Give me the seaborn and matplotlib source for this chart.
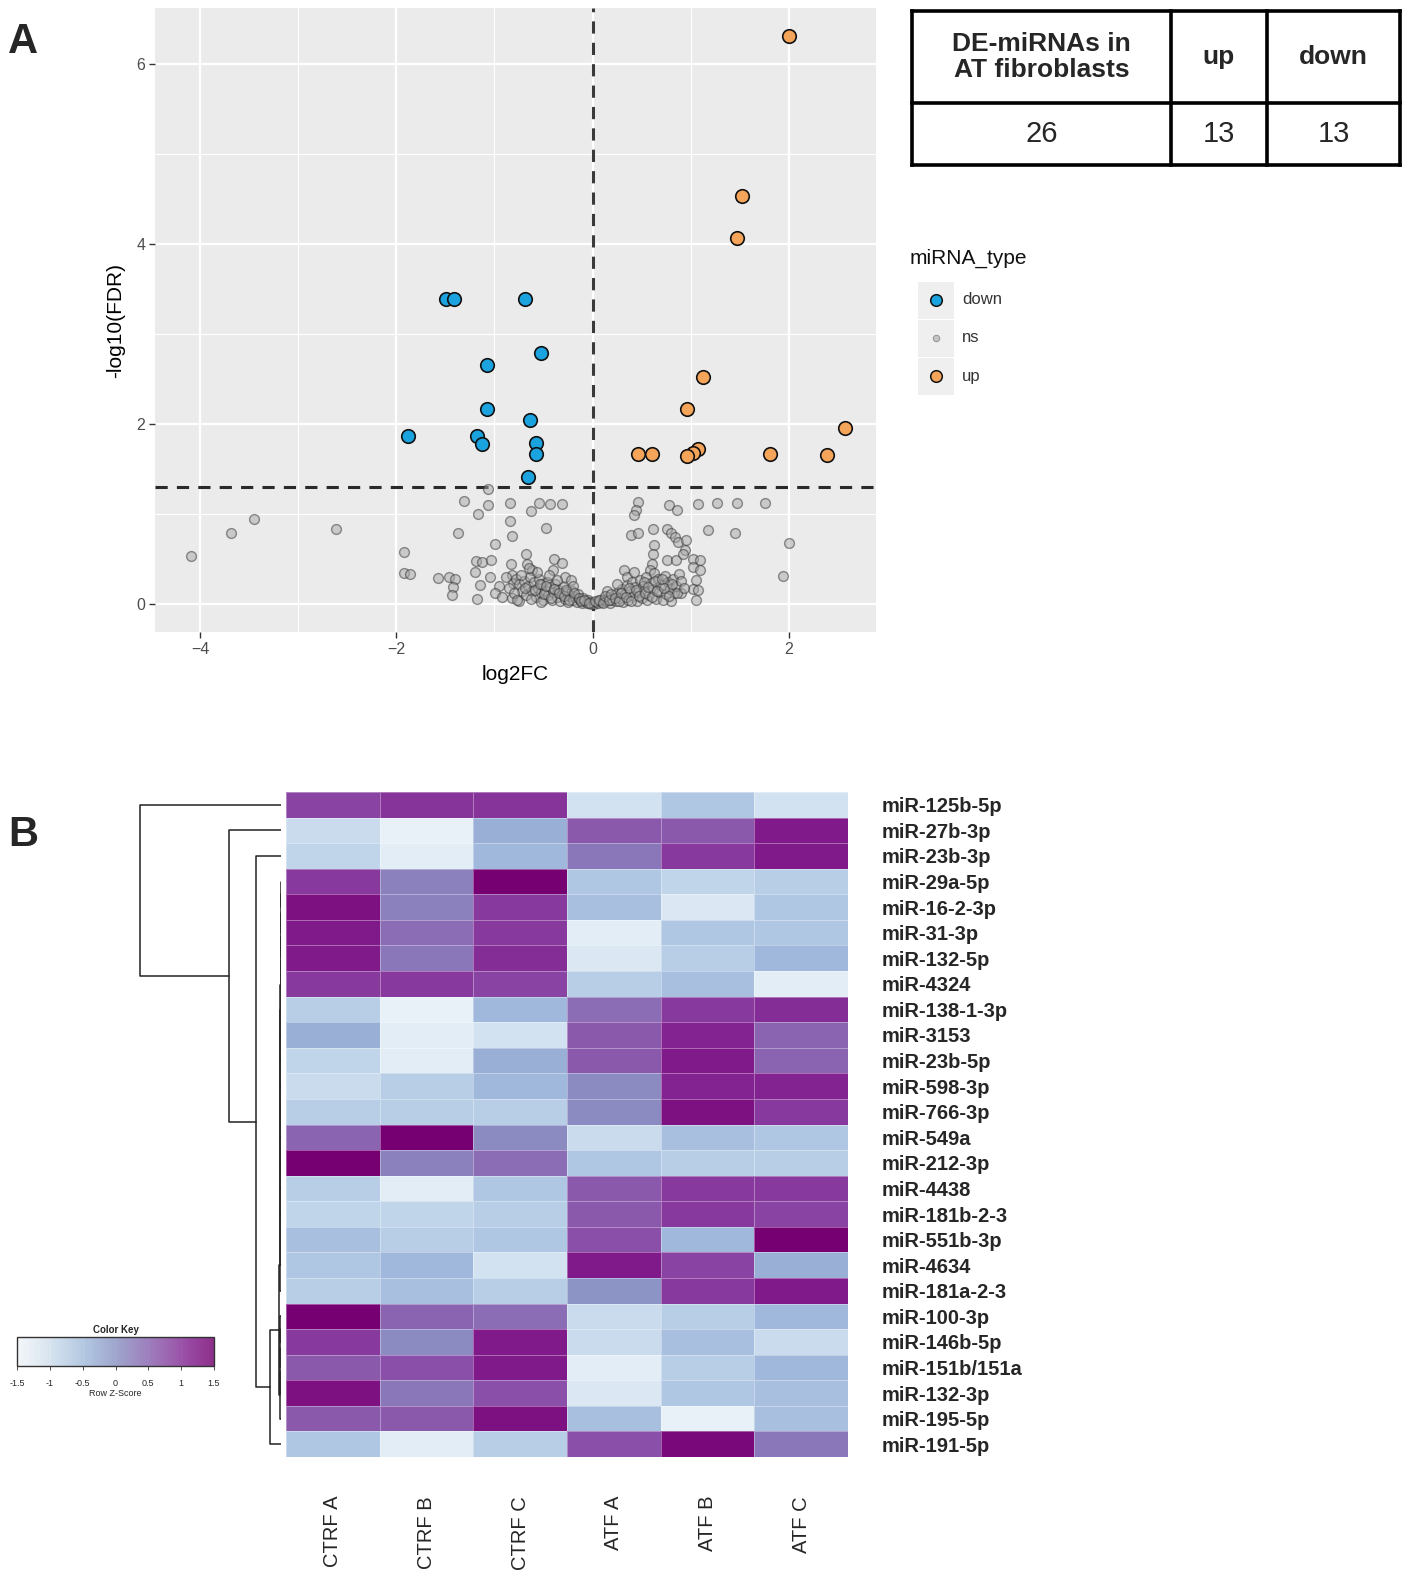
import numpy as np
import pandas as pd
import matplotlib
matplotlib.use("Agg")
import matplotlib.pyplot as plt
import seaborn as sns
from matplotlib.colors import LinearSegmentedColormap, Normalize
from matplotlib.cm import ScalarMappable

# ---------------- Panel A data (volcano) ----------------
up_x = [2.00, 1.52, 1.47, 1.13, 0.96, 2.57, 1.08, 1.02, 0.96, 0.46, 0.61, 1.81, 2.39]
up_y = [6.31, 4.53, 4.07, 2.52, 2.17, 1.96, 1.72, 1.68, 1.64, 1.67, 1.67, 1.67, 1.66]
down_x = [-1.49, -1.41, -0.69, -0.52, -1.08, -1.08, -0.64, -1.88, -1.18, -1.13, -0.58, -0.58, -0.66]
down_y = [3.39, 3.39, 3.39, 2.79, 2.66, 2.17, 2.04, 1.87, 1.87, 1.78, 1.79, 1.67, 1.41]

ns_x = [-4.09, -3.69, -3.45, -2.61, -1.92, -1.92, -1.86, -1.37, -1.31, -1.07, -1.07, -1.17, -0.84,
        -0.63, -0.55, -0.43, -0.31, -0.84, -0.82, -0.47, -0.99, -1.57, -1.46, -1.40, -1.42, -1.43,
        -1.19, -1.13, -1.03, -1.20, -1.15, -1.18, -1.04, -0.95, -0.83, -0.82, -0.81, -0.68, -0.67,
        -0.62, -0.82, -0.75, -0.39, -0.31, -0.40, -0.28, -0.22, -0.99, -0.92,
        0.46, 0.44, 0.42, 0.78, 0.86, 1.08, 1.27, 1.47, 1.76, 1.18, 0.39, 0.46, 0.62, 0.76, 0.80,
        0.84, 0.87, 0.95, 0.94, 0.63, 0.62, 0.61, 0.59, 0.76, 0.85, 0.92, 1.02, 1.10, 1.02, 1.10,
        1.06, 1.02, 1.08, 1.05, 0.90, 0.83, 0.80, 0.32, 0.35, 1.45, 2.00, 1.94,
        -0.78, -0.75, -0.72, -0.70, -0.68, -0.66, -0.64, -0.62, -0.60, -0.58, -0.56, -0.55, -0.53,
        -0.51, -0.50, -0.48, -0.46, -0.45, -0.43, -0.41, -0.40, -0.38, -0.36, -0.35, -0.33, -0.31,
        -0.30, -0.28, -0.26, -0.25, -0.23, -0.21, -0.20, -0.18, -0.16, -0.15, -0.13, -0.11, -0.10,
        -0.08, -0.06, -0.05, -0.03, -0.02, -0.44, -0.36, -0.57, -0.65, -0.20, -0.52,
        0.02, 0.04, 0.06, 0.08, 0.10, 0.12, 0.14, 0.16, 0.18, 0.20, 0.22, 0.24, 0.26, 0.28, 0.30,
        0.31, 0.33, 0.35, 0.36, 0.38, 0.40, 0.41, 0.43, 0.45, 0.46, 0.48, 0.50, 0.51, 0.53, 0.55,
        0.56, 0.58, 0.60, 0.62, 0.63, 0.65, 0.67, 0.68, 0.70, 0.72, 0.74, 0.75, 0.77, 0.79, 0.82,
        0.85, 0.88, 0.25, 0.15, 0.42,
        -0.88, -0.85, -0.80, -0.77, -0.73, -0.69, -0.63, -0.59, -0.54, -0.49, -0.47, -0.42, -0.39,
        -0.34, -0.29, -0.27, -0.24, -0.19, -0.14, -0.12, -0.09, -0.04,
        0.03, 0.07, 0.11, 0.13, 0.17, 0.19, 0.23, 0.27, 0.29, 0.34, 0.37, 0.39, 0.44, 0.47, 0.52,
        0.54, 0.57, 0.61, 0.64, 0.66, 0.71, 0.73, 0.78, 0.81, 0.86, 0.90, 0.93]
ns_y = [0.53, 0.79, 0.95, 0.83, 0.58, 0.35, 0.33, 0.79, 1.15, 1.28, 1.10, 1.00, 1.12,
        1.03, 1.12, 1.11, 1.11, 0.92, 0.76, 0.85, 0.67, 0.29, 0.30, 0.28, 0.19, 0.10,
        0.48, 0.47, 0.49, 0.36, 0.21, 0.06, 0.30, 0.20, 0.45, 0.32, 0.23, 0.56, 0.45,
        0.38, 0.07, 0.03, 0.50, 0.46, 0.38, 0.30, 0.27, 0.12, 0.08,
        1.13, 1.05, 0.99, 1.10, 1.05, 1.11, 1.12, 1.12, 1.12, 0.82, 0.77, 0.79, 0.83, 0.83, 0.79,
        0.75, 0.69, 0.71, 0.60, 0.66, 0.56, 0.45, 0.38, 0.49, 0.49, 0.56, 0.50, 0.49, 0.41, 0.38,
        0.27, 0.17, 0.16, 0.04, 0.12, 0.12, 0.03, 0.38, 0.30, 0.79, 0.68, 0.31,
        0.28, 0.22, 0.15, 0.26, 0.10, 0.20, 0.30, 0.14, 0.24, 0.08, 0.18, 0.28, 0.12,
        0.22, 0.05, 0.16, 0.25, 0.10, 0.19, 0.04, 0.13, 0.22, 0.08, 0.16, 0.03, 0.11,
        0.19, 0.06, 0.13, 0.02, 0.09, 0.15, 0.04, 0.08, 0.02, 0.11, 0.05, 0.01, 0.07,
        0.03, 0.01, 0.05, 0.02, 0.00, 0.32, 0.27, 0.36, 0.40, 0.20, 0.02,
        0.00, 0.02, 0.01, 0.04, 0.02, 0.06, 0.03, 0.08, 0.01, 0.05, 0.10, 0.03, 0.13, 0.07, 0.17,
        0.02, 0.11, 0.21, 0.05, 0.15, 0.24, 0.09, 0.19, 0.03, 0.13, 0.27, 0.07, 0.20, 0.15, 0.30,
        0.04, 0.10, 0.23, 0.17, 0.34, 0.06, 0.28, 0.13, 0.21, 0.04, 0.31, 0.11, 0.24, 0.17, 0.28,
        0.20, 0.33, 0.22, 0.14, 0.36,
        0.30, 0.18, 0.12, 0.05, 0.32, 0.18, 0.06, 0.16, 0.22, 0.11, 0.20, 0.07, 0.17,
        0.12, 0.09, 0.16, 0.05, 0.12, 0.07, 0.03, 0.05, 0.01,
        0.03, 0.05, 0.01, 0.09, 0.04, 0.11, 0.07, 0.03, 0.12, 0.08, 0.18, 0.03, 0.16, 0.09, 0.24,
        0.12, 0.19, 0.08, 0.26, 0.15, 0.28, 0.18, 0.09, 0.22, 0.12, 0.26, 0.18]

fdr_cut = 1.3
table_header = ["DE-miRNAs in\nAT fibroblasts", "up", "down"]
table_values = ["26", "13", "13"]
legend_levels = ["down", "ns", "up"]

# ---------------- Panel B data (heatmap) ----------------
mirnas = ["miR-125b-5p", "miR-27b-3p", "miR-23b-3p", "miR-29a-5p", "miR-16-2-3p", "miR-31-3p",
          "miR-132-5p", "miR-4324", "miR-138-1-3p", "miR-3153", "miR-23b-5p", "miR-598-3p",
          "miR-766-3p", "miR-549a", "miR-212-3p", "miR-4438", "miR-181b-2-3", "miR-551b-3p",
          "miR-4634", "miR-181a-2-3", "miR-100-3p", "miR-146b-5p", "miR-151b/151a", "miR-132-3p",
          "miR-195-5p", "miR-191-5p"]
samples = ["CTRF A", "CTRF B", "CTRF C", "ATF A", "ATF B", "ATF C"]
z_ctrf_a = [0.80, -0.90, -0.80, 0.90, 1.30, 1.20, 1.20, 0.90, -0.70, -0.30, -0.80, -0.90, -0.70,
            0.50, 1.50, -0.70, -0.80, -0.50, -0.60, -0.70, 1.50, 0.90, 0.60, 1.30, 0.60, -0.60]
z_ctrf_b = [0.95, -1.30, -1.20, 0.20, 0.20, 0.40, 0.30, 0.90, -1.30, -1.20, -1.20, -0.70, -0.70,
            1.50, 0.20, -1.20, -0.80, -0.70, -0.40, -0.50, 0.50, 0.10, 0.70, 0.30, 0.60, -1.20]
z_ctrf_c = [0.95, -0.30, -0.40, 1.50, 0.90, 0.90, 1.00, 0.80, -0.40, -1.00, -0.30, -0.40, -0.70,
            0.10, 0.40, -0.60, -0.70, -0.60, -1.00, -0.70, 0.40, 1.20, 1.20, 0.70, 1.30, -0.70]
z_atf_a = [-1.00, 0.60, 0.30, -0.60, -0.50, -1.20, -1.10, -0.70, 0.40, 0.60, 0.60, 0.10, 0.10,
           -0.90, -0.60, 0.60, 0.60, 0.70, 1.20, 0.00, -0.90, -0.90, -1.20, -1.10, -0.50, 0.70]
z_atf_b = [-0.60, 0.60, 0.90, -0.80, -1.10, -0.60, -0.70, -0.50, 0.90, 1.10, 1.20, 1.10, 1.30,
           -0.50, -0.70, 0.90, 0.90, -0.40, 0.80, 0.90, -0.70, -0.50, -0.70, -0.60, -1.30, 1.40]
z_atf_c = [-1.00, 1.20, 1.20, -0.70, -0.60, -0.60, -0.40, -1.20, 1.00, 0.50, 0.50, 1.10, 0.90,
           -0.60, -0.70, 0.90, 0.80, 1.50, -0.30, 1.20, -0.40, -0.90, -0.40, -0.50, -0.50, 0.30]
key_ticks = [-1.5, -1.0, -0.5, 0.0, 0.5, 1.0, 1.5]
key_labels = ["-1.5", "-1", "-0.5", "0", "0.5", "1", "1.5"]

# row dendrogram (scipy-style linkage: left id, right id, height; leaves 0..25)
link_left = [3, 26, 27, 28, 29, 30, 31, 32, 33, 34, 35, 36, 37, 38, 39, 40,
             20, 42, 43, 44, 41, 46, 2, 48, 0]
link_right = [4, 5, 6, 7, 8, 9, 10, 11, 12, 13, 14, 15, 16, 17, 18, 19,
              21, 22, 23, 24, 45, 25, 47, 1, 49]
link_height = [0.0010, 0.0016, 0.0022, 0.0028, 0.0034, 0.0040, 0.0046, 0.0052, 0.0058, 0.0064,
               0.0070, 0.0076, 0.0082, 0.0088, 0.0094, 0.0100,
               0.0040, 0.0060, 0.0080, 0.0100, 0.014, 0.078, 0.177, 0.369, 1.0]

# ---------------- style ----------------
sns.set_style("darkgrid", {"axes.facecolor": "#EBEBEB", "grid.color": "white"})
plt.rcParams['font.family'] = ['Liberation Sans', 'DejaVu Sans']

W, H = 1417, 1578
fig = plt.figure(figsize=(W / 100, H / 100), dpi=100)


def box(x0, y0, x1, y1):
    return [x0 / W, 1 - y1 / H, (x1 - x0) / W, (y1 - y0) / H]


# ---------------- Panel A: volcano ----------------
ax = fig.add_axes(box(155, 8, 876, 632))
df_ns = pd.DataFrame({"log2FC": ns_x, "nlf": ns_y})
df_dn = pd.DataFrame({"log2FC": down_x, "nlf": down_y})
df_up = pd.DataFrame({"log2FC": up_x, "nlf": up_y})
ns_col, dn_col, up_col = "#A8A8A8", "#1AA3DE", "#F5A55A"
sns.scatterplot(data=df_ns, x="log2FC", y="nlf", ax=ax, color=ns_col, edgecolor="#2E2E2E",
                s=50, linewidth=1.0, alpha=0.5, legend=False, zorder=3)
sns.scatterplot(data=df_dn, x="log2FC", y="nlf", ax=ax, color=dn_col, edgecolor="#111111",
                s=95, linewidth=1.2, legend=False, zorder=4)
sns.scatterplot(data=df_up, x="log2FC", y="nlf", ax=ax, color=up_col, edgecolor="#111111",
                s=95, linewidth=1.2, legend=False, zorder=4)
ax.axvline(0, color="#3A3A3A", lw=2.2, dashes=(4, 3), zorder=2)
ax.axhline(fdr_cut, color="#2A2A2A", lw=2.2, dashes=(4, 3), zorder=2)
ax.set_xlim(-4.46, 2.89)
ax.set_ylim(-0.31, 6.62)
ax.set_xticks([-4, -2, 0, 2])
ax.set_yticks([0, 2, 4, 6])
ax.set_xticks([-3, -1, 1], minor=True)
ax.set_yticks([1, 3, 5], minor=True)
ax.grid(which="major", color="white", lw=1.6)
ax.grid(which="minor", color="white", lw=0.8)
ax.tick_params(which="major", length=4, width=1, color="#333333", labelcolor="#4D4D4D",
               labelsize=11.5, bottom=True, left=True, pad=3)
ax.tick_params(which="minor", length=0)
for s in ax.spines.values():
    s.set_visible(False)
ax.set_xlabel("log2FC", fontsize=15, color="black", labelpad=6)
ax.set_ylabel("-log10(FDR)", fontsize=15, color="black", labelpad=8)

# legend (ggplot style)
axl = fig.add_axes(box(905, 240, 1105, 400))
axl.set_xlim(905, 1105)
axl.set_ylim(400, 240)
axl.axis("off")
axl.text(910, 258, "miRNA_type", fontsize=15, va="center", ha="left", color="#111111")
key_cols = {"down": dn_col, "ns": ns_col, "up": up_col}
key_size = {"down": 70, "ns": 22, "up": 70}
for i, lev in enumerate(legend_levels):
    yc = 300 + i * 38
    axl.add_patch(plt.Rectangle((918, yc - 18.5), 36, 37, color="#EFEFEF", lw=0))
    axl.scatter([936], [yc], s=key_size[lev], color=key_cols[lev],
                edgecolor="#111111" if lev != "ns" else "#555555",
                linewidth=1.1 if lev != "ns" else 0.6, alpha=1 if lev != "ns" else 0.6, zorder=3)
    axl.text(962, yc, lev, fontsize=12, va="center", ha="left", color="#333333")

# summary table
axt = fig.add_axes(box(905, 5, 1405, 170))
axt.set_xlim(905, 1405)
axt.set_ylim(170, 5)
axt.axis("off")
xs = [912, 1171, 1267, 1400]
ys = [11, 103, 165]
for xv in xs:
    axt.plot([xv, xv], [ys[0], ys[-1]], color="black", lw=2.6, solid_capstyle="projecting")
for yv in ys:
    axt.plot([xs[0], xs[-1]], [yv, yv], color="black", lw=2.6, solid_capstyle="projecting")
for j in range(3):
    xc = (xs[j] + xs[j + 1]) / 2
    axt.text(xc, (ys[0] + ys[1]) / 2, table_header[j], ha="center", va="center",
             fontsize=19, fontweight="bold", linespacing=1.1)
    axt.text(xc, (ys[1] + ys[2]) / 2, table_values[j], ha="center", va="center", fontsize=21)

fig.text(8 / W, 1 - 42 / H, "A", fontsize=30, fontweight="bold", va="center", ha="left")
fig.text(8 / W, 1 - 835 / H, "B", fontsize=30, fontweight="bold", va="center", ha="left")

# ---------------- Panel B: heatmap ----------------
cmap = LinearSegmentedColormap.from_list(
    "bupu_like", ["#F6FAFD", "#DDE9F4", "#BCD2E8", "#9EB6DA", "#8C95C6", "#8A70B6",
                  "#8A4AA6", "#832090", "#760072"])
zmat = pd.DataFrame({samples[0]: z_ctrf_a, samples[1]: z_ctrf_b, samples[2]: z_ctrf_c,
                     samples[3]: z_atf_a, samples[4]: z_atf_b, samples[5]: z_atf_c},
                    index=mirnas)
axh = fig.add_axes(box(286, 792, 848, 1457))
sns.heatmap(zmat, cmap=cmap, vmin=-1.5, vmax=1.5, cbar=False, ax=axh,
            linewidths=0.5, linecolor=(1, 1, 1, 0.35))
axh.yaxis.tick_right()
axh.set_yticks(np.arange(len(mirnas)) + 0.5)
axh.set_yticklabels(mirnas, rotation=0, fontsize=14.5, fontweight="bold", ha="left")
axh.set_xticks(np.arange(len(samples)) + 0.5)
axh.set_xticklabels(samples, rotation=90, fontsize=14.5, va="top", ha="center")
axh.tick_params(axis="y", length=0, pad=24)
axh.tick_params(axis="x", length=0, pad=28)
axh.set_xlabel("")
axh.set_ylabel("")

# row dendrogram
axd = fig.add_axes(box(130, 792, 281, 1457))
axd.set_ylim(len(mirnas), 0)
axd.set_xlim(1.0 * 151 / 141, 0)
axd.axis("off")
pos = {i: i + 0.5 for i in range(len(mirnas))}
hgt = {i: 0.0 for i in range(len(mirnas))}
nid = len(mirnas)
for a, b, h in zip(link_left, link_right, link_height):
    ya, yb = pos[a], pos[b]
    axd.plot([hgt[a], h, h, hgt[b]], [ya, ya, yb, yb], color="#222222", lw=1.1)
    pos[nid] = (ya + yb) / 2
    hgt[nid] = h
    nid += 1

# color key
axk = fig.add_axes(box(17, 1337, 214, 1366))
cb = fig.colorbar(ScalarMappable(norm=Normalize(-1.5, 1.5), cmap=cmap), cax=axk,
                  orientation="horizontal", alpha=0.8)
cb.outline.set_linewidth(1.0)
cb.outline.set_edgecolor("#333333")
cb.set_ticks(key_ticks)
cb.set_ticklabels(key_labels)
axk.tick_params(labelsize=6.5, length=3, width=0.6, color="#333333", pad=6)
axk.set_xlabel("Row Z-Score", fontsize=6.5, labelpad=1)
axk.set_title("Color Key", fontsize=7, fontweight="bold", pad=3)

fig.savefig("out.png", dpi=100)
